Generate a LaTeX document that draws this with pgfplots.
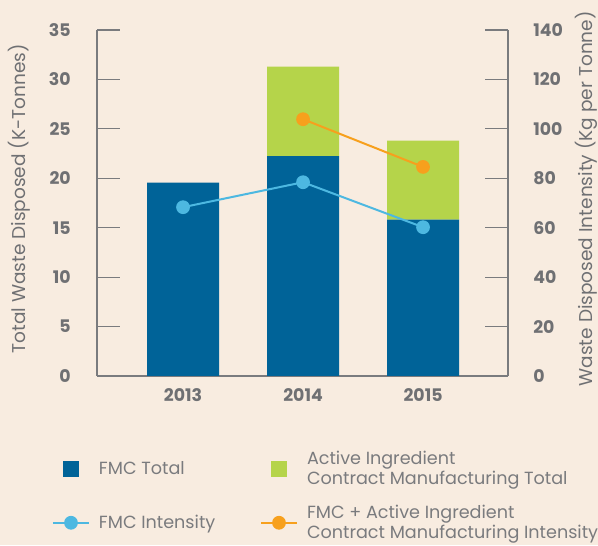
\documentclass[border=0pt]{standalone}
\usepackage{pgfplots}
\pgfplotsset{compat=1.18}
\usepackage{fontspec}
\setmainfont{Poppins}
\definecolor{bg}{HTML}{F8ECE0}
\definecolor{fmcblue}{HTML}{006398}
\definecolor{aigreen}{HTML}{B5D44A}
\definecolor{ltblue}{HTML}{4DB8E1}
\definecolor{orng}{HTML}{F7A01D}
\definecolor{txtgray}{HTML}{6F7073}
\definecolor{leggray}{HTML}{7A7B7E}
\definecolor{axgray}{HTML}{7A7B7E}
\pgfplotsset{
  common/.style={
    scale only axis, width=308.25pt, height=259.5pt,
    at={(72.75pt,126.75pt)}, anchor=south west,
    xmin=-0.717, xmax=2.708,
    major tick length=17.25pt, tick align=inside,
    y axis line style={-, axgray, line width=1.5pt},
    ytick style={axgray, line width=0.8pt},
    tick label style={font=\bfseries\fontsize{13}{14}\selectfont, text=txtgray},
    /pgf/number format/assume math mode=true,
    label style={font=\fontsize{13.9}{15}\selectfont, text=txtgray},
  }
}
\begin{document}
\begin{tikzpicture}
\fill[bg] (0pt,0pt) rectangle (448.5pt,408.75pt);
\useasboundingbox (0pt,0pt) rectangle (448.5pt,408.75pt);
\begin{axis}[common,
  ybar stacked, bar width=0.6,
  ymin=0, ymax=35, ytick={0,5,...,35},
  axis y line*=left, axis x line*=bottom,
  xtick={0,1,2}, xticklabels={2013,2014,2015},
  x axis line style={-, axgray, line width=1.5pt},
  xtick style={draw=none},
  yticklabel style={anchor=east, inner sep=0pt, xshift=-19.5pt},
  xticklabel style={anchor=center, inner sep=0pt, yshift=-14.25pt},
  ylabel={Total Waste Disposed (K-Tonnes)},
  ylabel style={at={(rel axis cs:-0.19,0.512)}, anchor=center},
]
\addplot[fill=fmcblue, draw=none] coordinates {(0,19.57) (1,22.23) (2,15.83)};
\addplot[fill=aigreen, draw=none] coordinates {(0,0) (1,9.07) (2,7.97)};
\end{axis}
\begin{axis}[common,
  ymin=0, ymax=140, ytick={0,20,...,140},
  axis y line*=right, axis x line=none,
  yticklabel style={anchor=west, inner sep=0pt, xshift=18.75pt},
  ylabel={Waste Disposed Intensity (Kg per Tonne)},
  ylabel style={at={(rel axis cs:1.191,0.512)}, anchor=center},
  legend image code/.code={\draw[mark repeat=2,mark phase=2,#1] plot coordinates {(0pt,0pt) (13.5pt,0pt) (27pt,0pt)};},
  legend columns=2,
  legend cell align=left,
  legend style={draw=none, fill=none, inner sep=0pt, outer sep=0pt,
    at={(rel axis cs:-0.1095,-0.2168)}, anchor=north west,
    row sep=14pt,
    font=\fontsize{13.2}{15}\selectfont, text=leggray,
    nodes={inner sep=0pt, align=left, anchor=west},
    /tikz/every odd column/.append style={column sep=6.75pt},
  },
]
\addlegendimage{legend image code/.code={\path (0pt,0pt) (27pt,0pt); \fill[fmcblue] (7.875pt,-5.625pt) rectangle (19.125pt,5.625pt);}}
\addlegendentry{\makebox[120.75pt][l]{FMC Total}}
\addlegendimage{legend image code/.code={\path (0pt,0pt) (27pt,0pt); \fill[aigreen] (7.875pt,-5.625pt) rectangle (19.125pt,5.625pt);}}
\addlegendentry{Active Ingredient\\Contract Manufacturing Total}
\addplot[ltblue, line width=1.5pt, mark=*, mark size=4.4pt, mark options={fill=ltblue, draw=none}] coordinates {(0,68.3) (1,78.4) (2,60.2)};
\addlegendentry{\makebox[120.75pt][l]{FMC Intensity}}
\addplot[orng, line width=1.5pt, mark=*, mark size=4.4pt, mark options={fill=orng, draw=none}] coordinates {(1,103.9) (2,84.6)};
\addlegendentry{FMC + Active Ingredient\\Contract Manufacturing Intensity}
\end{axis}
\end{tikzpicture}
\end{document}
